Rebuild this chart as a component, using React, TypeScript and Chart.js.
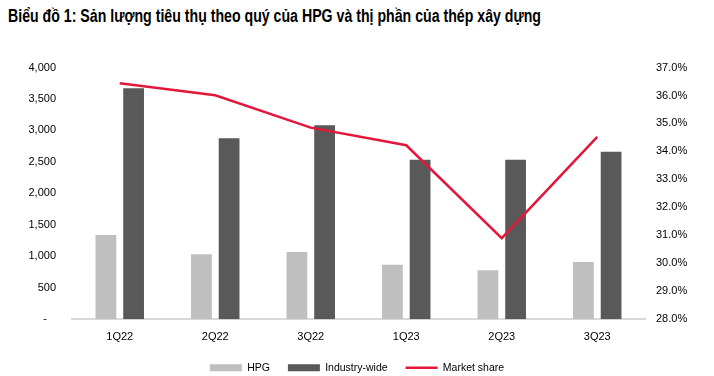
import React, { useEffect, useRef } from "react";
import { Chart, registerables } from "chart.js";

Chart.register(...registerables);

const TITLE = "Biểu đồ 1: Sản lượng tiêu thụ theo quý của HPG và thị phần của thép xây dựng";
const categories = ["1Q22", "2Q22", "3Q22", "1Q23", "2Q23", "3Q23"];
const hpg = [1340, 1035, 1070, 865, 780, 910];
const industry = [3672, 2878, 3084, 2533, 2533, 2660];
const marketShare = [36.44, 36.01, 34.85, 34.22, 30.9, 34.52];

const FONT = '"Liberation Sans", Arial, sans-serif';
const TITLE_WIDTH = 533;

export default function App() {
  const ref = useRef<HTMLCanvasElement | null>(null);
  const titleRef = useRef<HTMLSpanElement | null>(null);

  useEffect(() => {
    if (titleRef.current) {
      titleRef.current.style.transform = "none";
      const w = titleRef.current.getBoundingClientRect().width;
      if (w > 0) titleRef.current.style.transform = `scaleX(${TITLE_WIDTH / w})`;
    }
    if (!ref.current) return;
    const chart = new Chart(ref.current, {
      type: "bar",
      data: {
        labels: categories,
        datasets: [
          {
            type: "line",
            label: "Market share",
            data: marketShare,
            yAxisID: "y1",
            borderColor: "#e2173a",
            backgroundColor: "#e2173a",
            borderWidth: 2.5,
            pointRadius: 0,
            pointStyle: "line",
            tension: 0,
            order: 0,
          } as any,
          {
            label: "HPG",
            data: hpg,
            yAxisID: "y",
            backgroundColor: "#bfbfbf",
            pointStyle: "rect",
            categoryPercentage: 0.58,
            barPercentage: 0.75,
            order: 1,
          },
          {
            label: "Industry-wide",
            data: industry,
            yAxisID: "y",
            backgroundColor: "#595959",
            pointStyle: "rect",
            categoryPercentage: 0.58,
            barPercentage: 0.75,
            order: 1,
          },
        ],
      },
      options: {
        responsive: false,
        animation: false,
        layout: { padding: { top: 67.5, left: 0, right: 0, bottom: 0 } },
        plugins: {
          tooltip: { enabled: false },
          title: { display: false },
          legend: {
            position: "bottom",
            labels: {
              usePointStyle: true,
              pointStyleWidth: 32,
              boxHeight: 7,
              padding: 18,
              color: "#000",
              font: { family: FONT, size: 10.5 },
              sort: (a: any, b: any) => {
                const ord = ["HPG", "Industry-wide", "Market share"];
                return ord.indexOf(a.text) - ord.indexOf(b.text);
              },
            },
          },
        },
        scales: {
          x: {
            grid: { display: false, drawTicks: false },
            border: { display: true, color: "#d9d9d9", width: 2 },
            ticks: { color: "#000", font: { family: FONT, size: 11 }, padding: 11 },
            afterFit: (s: any) => {
              s.height = 25.2;
            },
          },
          y: {
            position: "left",
            min: 0,
            max: 4000,
            grid: { display: false, drawTicks: false },
            border: { display: false },
            ticks: {
              stepSize: 500,
              padding: 16,
              color: "#000",
              font: { family: FONT, size: 11 },
              callback: (v: any) => (Number(v) === 0 ? "-   " : Number(v).toLocaleString("en-US")),
            },
            afterFit: (s: any) => {
              s.width = 72;
            },
          },
          y1: {
            position: "right",
            min: 28,
            max: 37,
            grid: { display: false, drawTicks: false },
            border: { display: false },
            ticks: {
              stepSize: 1,
              padding: 11,
              color: "#000",
              font: { family: FONT, size: 11 },
              callback: (v: any) => Number(v).toFixed(1) + "%",
            },
            afterFit: (s: any) => {
              s.width = 69;
            },
          },
        },
      },
    });
    return () => chart.destroy();
  }, []);

  return (
    <div style={{ position: "fixed", left: 0, top: 0, width: 714, height: 376, overflow: "hidden", background: "#fff" }}>
      <span
        ref={titleRef}
        style={{
          position: "absolute",
          left: 8,
          top: 6,
          fontFamily: FONT,
          fontWeight: "bold",
          fontSize: 18,
          color: "#000",
          whiteSpace: "nowrap",
          transformOrigin: "0 0",
          display: "inline-block",
        }}
      >
        {TITLE}
      </span>
      <canvas ref={ref} width={714} height={383} style={{ position: "absolute", left: 0, top: 0, width: 714, height: 383 }} />
    </div>
  );
}
